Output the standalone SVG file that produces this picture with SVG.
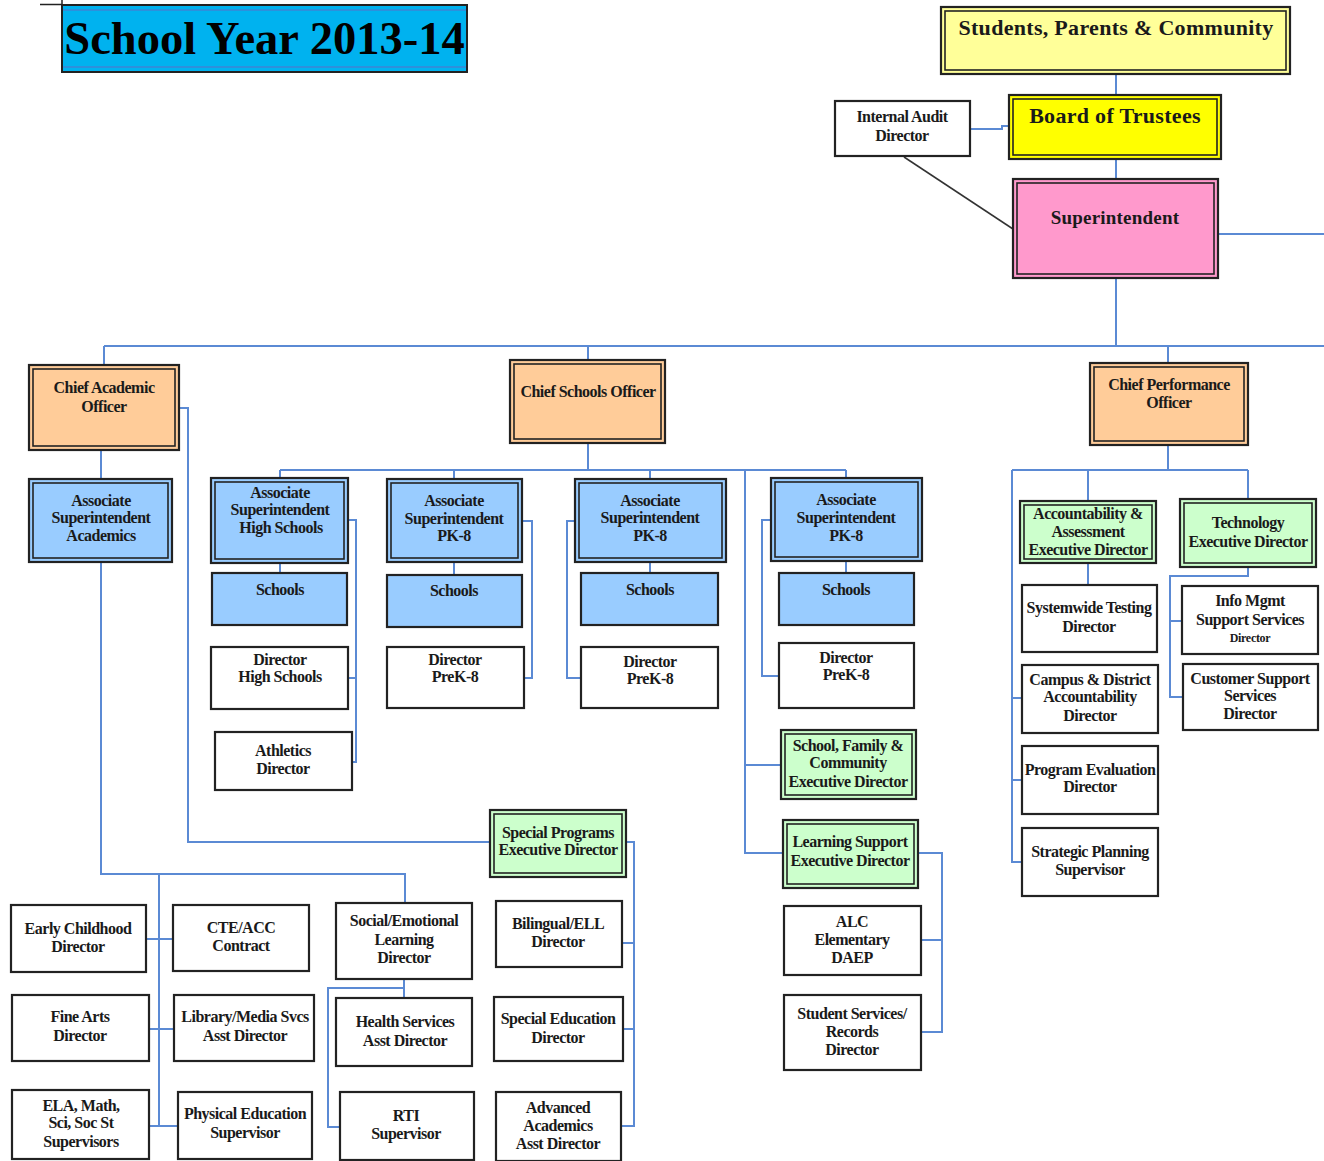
<svg xmlns="http://www.w3.org/2000/svg" width="1324" height="1161" viewBox="0 0 1324 1161">
<style>
.ln{fill:none;stroke:#5b8ad4;stroke-width:2}
.o{stroke:#222;stroke-width:2.2}
.i{fill:none;stroke:#222;stroke-width:1.6}
.w{fill:#fff}.bl{fill:#99ccff}.gr{fill:#ccffcc}.pe{fill:#ffcc99}
text{font-family:"Liberation Serif","Times New Roman",serif;font-weight:bold;font-size:16px;letter-spacing:-0.5px;fill:#1a1a1a;text-anchor:middle}
.big{font-size:22px;letter-spacing:0.3px}
.sm{font-size:12px;letter-spacing:-0.3px}
</style>
<rect width="1324" height="1161" fill="#fff"/>
<g id="connectors">
<path class="ln" d="M1116,74V95M1116,159V179M1116,278V346M104,346H1324M104,346V365M588,346V360M1168,346V363M1218,234H1324M970,129H1002V126H1009"/>
<path d="M904,157L1013,229" fill="none" stroke="#333" stroke-width="1.5"/>
<path class="ln" d="M101,450V479M179,408H188V842H490M101,562V874H405V903M159,874V1126M146,939H173M149,1029H174M149,1126H178M404,979V998M404,988H328V1127H340"/>
<path class="ln" d="M626,842H634V1126H622M622,943H634M623,1029H634"/>
<path class="ln" d="M588,443V470M280,470H846M280,470V478M454,470V479M650,470V479M846,470V478M280,563V573M454,562V575M650,562V573M846,561V573"/>
<path class="ln" d="M348,520H356V762H352M348,678H356M522,521H532V678H524M575,521H567V678H581M771,520H762V676H779"/>
<path class="ln" d="M745,470V853H783M745,765H781M918,853H942V1032H921M921,940H942"/>
<path class="ln" d="M1168,445V470M1012,470H1248M1088,470V501M1248,470V499M1012,470V862H1022M1012,698H1022M1012,780H1022M1088,563V585M1248,567V576H1170V697H1183M1170,621H1182"/>
</g>
<g id="title">
<path d="M40,4.5H62M62,0V5" stroke="#222" stroke-width="1.5"/>
<rect x="62" y="5" width="405" height="67" fill="#00b2ef" stroke="#222" stroke-width="2"/>
<path d="M63,10H466M63,67H466" stroke="#5a6fc8" stroke-width="1"/>
<text x="264.5" y="54" style="font-size:46.5px;letter-spacing:0;fill:#000">School Year 2013-14</text>
</g>
<g id="spc"><rect class="o" x="941" y="7" width="349" height="67" fill="#ffff99"/><rect class="i" x="945" y="11" width="341" height="59"/><text class="big" x="1116" y="35">Students, Parents &amp; Community</text></g>
<g id="bot"><rect class="o" x="1009" y="95" width="212" height="64" fill="#ffff00"/><rect class="i" x="1013" y="99" width="204" height="56"/><text class="big" x="1115" y="123">Board of Trustees</text></g>
<g id="audit"><rect class="o w" x="835" y="101" width="135" height="55"/><text x="902" y="122">Internal Audit</text><text x="902" y="141">Director</text></g>
<g id="sup"><rect class="o" x="1013" y="179" width="205" height="99" fill="#ff99cc"/><rect class="i" x="1017" y="183" width="197" height="91"/><text x="1115" y="224" style="font-size:19px;letter-spacing:0.2px">Superintendent</text></g>
<g id="cao"><rect class="o pe" x="29" y="365" width="150" height="85"/><rect class="i" x="33" y="369" width="142" height="77"/><text x="104" y="393">Chief Academic</text><text x="104" y="412">Officer</text></g>
<g id="cso"><rect class="o pe" x="510" y="360" width="155" height="83"/><rect class="i" x="514" y="364" width="147" height="75"/><text x="588" y="397">Chief Schools Officer</text></g>
<g id="cpo"><rect class="o pe" x="1090" y="363" width="158" height="82"/><rect class="i" x="1094" y="367" width="150" height="74"/><text x="1169" y="390">Chief Performance</text><text x="1169" y="408">Officer</text></g>
<g id="asa"><rect class="o bl" x="29" y="479" width="143" height="83"/><rect class="i" x="33" y="483" width="135" height="75"/><text x="101" y="506">Associate</text><text x="101" y="523">Superintendent</text><text x="101" y="541">Academics</text></g>
<g id="ashs"><rect class="o bl" x="211" y="478" width="137" height="85"/><rect class="i" x="215" y="482" width="129" height="77"/><text x="280" y="498">Associate</text><text x="280" y="515">Superintendent</text><text x="281" y="533">High Schools</text></g>
<g id="sch1"><rect class="o bl" x="212" y="573" width="135" height="52"/><text x="280" y="595">Schools</text></g>
<g id="dhs"><rect class="o w" x="211" y="647" width="137" height="62"/><text x="280" y="665">Director</text><text x="280" y="682">High Schools</text></g>
<g id="ath"><rect class="o w" x="215" y="732" width="137" height="58"/><text x="283" y="756">Athletics</text><text x="283" y="774">Director</text></g>
<g id="aspk1"><rect class="o bl" x="387" y="479" width="135" height="83"/><rect class="i" x="391" y="483" width="127" height="75"/><text x="454" y="506">Associate</text><text x="454" y="524">Superintendent</text><text x="454" y="541">PK-8</text></g>
<g id="sch2"><rect class="o bl" x="387" y="575" width="135" height="52"/><text x="454" y="596">Schools</text></g>
<g id="dpk1"><rect class="o w" x="387" y="647" width="137" height="61"/><text x="455" y="665">Director</text><text x="455" y="682">PreK-8</text></g>
<g id="aspk2"><rect class="o bl" x="575" y="479" width="151" height="83"/><rect class="i" x="579" y="483" width="143" height="75"/><text x="650" y="506">Associate</text><text x="650" y="523">Superintendent</text><text x="650" y="541">PK-8</text></g>
<g id="sch3"><rect class="o bl" x="581" y="573" width="137" height="52"/><text x="650" y="595">Schools</text></g>
<g id="dpk2"><rect class="o w" x="581" y="647" width="137" height="61"/><text x="650" y="667">Director</text><text x="650" y="684">PreK-8</text></g>
<g id="aspk3"><rect class="o bl" x="771" y="478" width="151" height="83"/><rect class="i" x="775" y="482" width="143" height="75"/><text x="846" y="505">Associate</text><text x="846" y="523">Superintendent</text><text x="846" y="541">PK-8</text></g>
<g id="sch4"><rect class="o bl" x="779" y="573" width="135" height="52"/><text x="846" y="595">Schools</text></g>
<g id="dpk3"><rect class="o w" x="779" y="643" width="135" height="65"/><text x="846" y="663">Director</text><text x="846" y="680">PreK-8</text></g>
<g id="sfc"><rect class="o gr" x="781" y="730" width="135" height="69"/><rect class="i" x="785" y="734" width="127" height="61"/><text x="848" y="751">School, Family &amp;</text><text x="848" y="768">Community</text><text x="848" y="787">Executive Director</text></g>
<g id="lse"><rect class="o gr" x="783" y="820" width="135" height="68"/><rect class="i" x="787" y="824" width="127" height="60"/><text x="850" y="847">Learning Support</text><text x="850" y="866">Executive Director</text></g>
<g id="alc"><rect class="o w" x="784" y="906" width="137" height="69"/><text x="852" y="927">ALC</text><text x="852" y="945">Elementary</text><text x="852" y="963">DAEP</text></g>
<g id="ssr"><rect class="o w" x="784" y="995" width="137" height="75"/><text x="852" y="1019">Student Services/</text><text x="852" y="1037">Records</text><text x="852" y="1055">Director</text></g>
<g id="spe"><rect class="o gr" x="490" y="810" width="136" height="67"/><rect class="i" x="494" y="814" width="128" height="59"/><text x="558" y="838">Special Programs</text><text x="558" y="855">Executive Director</text></g>
<g id="bil"><rect class="o w" x="496" y="901" width="126" height="66"/><text x="558" y="929">Bilingual/ELL</text><text x="558" y="947">Director</text></g>
<g id="sed"><rect class="o w" x="494" y="997" width="129" height="64"/><text x="558" y="1024">Special Education</text><text x="558" y="1043">Director</text></g>
<g id="adv"><rect class="o w" x="496" y="1092" width="125" height="69"/><text x="558" y="1113">Advanced</text><text x="558" y="1131">Academics</text><text x="558" y="1149">Asst Director</text></g>
<g id="ecd"><rect class="o w" x="11" y="905" width="135" height="67"/><text x="78" y="934">Early Childhood</text><text x="78" y="952">Director</text></g>
<g id="cte"><rect class="o w" x="173" y="905" width="136" height="66"/><text x="241" y="933">CTE/ACC</text><text x="241" y="951">Contract</text></g>
<g id="fad"><rect class="o w" x="12" y="995" width="137" height="66"/><text x="80" y="1022">Fine Arts</text><text x="80" y="1041">Director</text></g>
<g id="lib"><rect class="o w" x="174" y="995" width="140" height="66"/><text x="245" y="1022">Library/Media Svcs</text><text x="245" y="1041">Asst Director</text></g>
<g id="ela"><rect class="o w" x="12" y="1090" width="137" height="69"/><text x="81" y="1111">ELA, Math,</text><text x="81" y="1128">Sci, Soc St</text><text x="81" y="1147">Supervisors</text></g>
<g id="ped"><rect class="o w" x="178" y="1092" width="134" height="67"/><text x="245" y="1119">Physical Education</text><text x="245" y="1138">Supervisor</text></g>
<g id="sel"><rect class="o w" x="336" y="903" width="136" height="76"/><text x="404" y="926">Social/Emotional</text><text x="404" y="945">Learning</text><text x="404" y="963">Director</text></g>
<g id="hsd"><rect class="o w" x="336" y="998" width="136" height="68"/><text x="405" y="1027">Health Services</text><text x="405" y="1046">Asst Director</text></g>
<g id="rti"><rect class="o w" x="340" y="1092" width="134" height="68"/><text x="406" y="1121">RTI</text><text x="406" y="1139">Supervisor</text></g>
<g id="aae"><rect class="o gr" x="1020" y="501" width="136" height="62"/><rect class="i" x="1024" y="505" width="128" height="54"/><text x="1088" y="519">Accountability &amp;</text><text x="1088" y="537">Assessment</text><text x="1088" y="555">Executive Director</text></g>
<g id="swt"><rect class="o w" x="1022" y="585" width="135" height="67"/><text x="1089" y="613">Systemwide Testing</text><text x="1089" y="632">Director</text></g>
<g id="cda"><rect class="o w" x="1022" y="665" width="136" height="68"/><text x="1090" y="685">Campus &amp; District</text><text x="1090" y="702">Accountability</text><text x="1090" y="721">Director</text></g>
<g id="pev"><rect class="o w" x="1022" y="746" width="136" height="68"/><text x="1090" y="775">Program Evaluation</text><text x="1090" y="792">Director</text></g>
<g id="spl"><rect class="o w" x="1022" y="828" width="136" height="68"/><text x="1090" y="857">Strategic Planning</text><text x="1090" y="875">Supervisor</text></g>
<g id="ted"><rect class="o gr" x="1180" y="499" width="136" height="68"/><rect class="i" x="1184" y="503" width="128" height="60"/><text x="1248" y="528">Technology</text><text x="1248" y="547">Executive Director</text></g>
<g id="img"><rect class="o w" x="1182" y="586" width="136" height="68"/><text x="1250" y="606">Info Mgmt</text><text x="1250" y="625">Support Services</text><text class="sm" x="1250" y="642">Director</text></g>
<g id="css"><rect class="o w" x="1183" y="664" width="135" height="66"/><text x="1250" y="684">Customer Support</text><text x="1250" y="701">Services</text><text x="1250" y="719">Director</text></g>
</svg>
